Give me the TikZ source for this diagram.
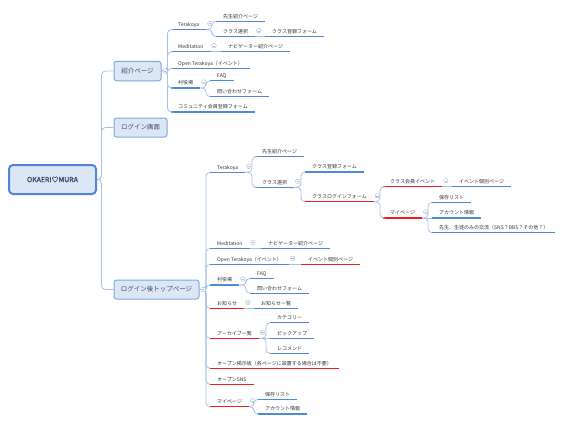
\documentclass[tikz,border=0pt]{standalone}
\usepackage{fontspec}
\setmainfont{Noto Sans CJK JP}[AutoFakeBold=2]
\usetikzlibrary{calc}
\definecolor{ublue}{HTML}{4F8AD9}
\definecolor{ured}{HTML}{EE1C1C}
\definecolor{cline}{HTML}{A6C2E8}
\definecolor{mkline}{HTML}{A9B8CC}
\definecolor{bfill}{HTML}{DCE6F4}
\definecolor{bdraw}{HTML}{7FA8E0}
\definecolor{rdraw}{HTML}{4F86D6}
\definecolor{txt}{HTML}{333333}
\definecolor{btxt}{HTML}{3E4F6E}
\tikzset{
 tp/.style={inner xsep=7pt, inner ysep=2.3pt, text height=4.4pt, text depth=0.7pt,
   font=\fontsize{5}{6}\selectfont, text=txt},
 ul/.style={line width=1.3pt},
 conn/.style={draw=cline, line width=0.8pt, rounded corners=4pt},
 box/.style={draw=bdraw, fill=bfill, line width=1pt, rounded corners=2.5pt,
   font=\fontsize{6.5}{8}\selectfont, text=btxt, inner sep=0pt},
 mk/.style={circle, draw=mkline, fill=white, line width=0.4pt, minimum size=4.6pt, inner sep=0pt,
   path picture={\draw[mkline,line width=0.4pt] ([xshift=-1.3pt]path picture bounding box.center) -- ([xshift=1.3pt]path picture bounding box.center);}},
}
% topic: [colour]{name}{x}{y}{text}
\newcommand\tp[5][ublue]{%
  \node[tp,anchor=south west] (#2) at (#3,#4) {#5};
  \draw[ul,draw=#1] (#2.south west) -- (#2.south east);}
% branch: {parent}{child}{trunk}
\newcommand\br[3]{\draw[conn] (#1.south east) -- (#1.south east -| #3) |- (#2.south west);}
\newcommand\st[2]{\draw[conn] (#1.south east) -- (#2.south west);}
\newcommand\mkr[2]{\node[mk] (#1) at ($(#2.south east)+(3.5,-6)$) {};}
\begin{document}
\begin{tikzpicture}[x=1pt,y=-1pt]
\useasboundingbox (0,0) rectangle (561,423);
% trunks
\coordinate (T0) at (101.5,0);
\coordinate (T1) at (167.5,0);
\coordinate (Ta1) at (212,0);
\coordinate (Ta4) at (206,0);
\coordinate (T3) at (206,0);
\coordinate (Tc1) at (252,0);
\coordinate (Tc12) at (301,0);
\coordinate (Tc122) at (380,0);
\coordinate (Tc1222) at (428,0);
\coordinate (Tc4) at (246,0);
\coordinate (Tc6) at (266,0);
\coordinate (Tc9) at (254,0);

% boxes
\node[box, draw=rdraw, line width=2pt, rounded corners=4pt, minimum width=87pt, minimum height=29pt,
  font=\fontsize{7}{8}\selectfont\bfseries] (root) at (52.5,179.5) {OKAERI♡MURA};
\node[box, minimum width=47pt, minimum height=19.5pt] (b1) at (137.5,71) {紹介ページ};
\node[box, minimum width=53pt, minimum height=19pt] (b2) at (140.5,127.5) {ログイン画面};
\node[box, minimum width=85pt, minimum height=19pt] (b3) at (156.5,289.5) {ログイン後トップページ};

\draw[conn] (root.east) -- (root.east -| T0) |- (b1.west);
\draw[conn] (root.east) -- (root.east -| T0) |- (b2.west);
\draw[conn] (root.east) -- (root.east -| T0) |- (b3.west);

% ---- 紹介ページ
\tp{a1}{171}{29.5}{Terakoya}
\tp{a2}{171}{51.7}{Meditation}
\tp{a3}{171}{68.3}{Open Terakoya（イベント）}
\tp{a4}{171}{88}{村役場}
\tp{a5}{171}{112}{コミュニティ会員登録フォーム}
\foreach \c in {a1,a2,a3,a4,a5} {\draw[conn] (b1.east) -- (b1.east -| T1) |- (\c.south west);}
\node[mk] (mb1) at ($(b1.east)+(3.5,0)$) {};

\tp{a11}{216}{21.3}{先生紹介ページ}
\tp{a12}{216}{36.7}{クラス選択}
\br{a1}{a11}{Ta1}\br{a1}{a12}{Ta1}\mkr{ma1}{a1}
\tp{a121}{265}{36.7}{クラス登録フォーム}
\st{a12}{a121}\mkr{ma12}{a12}
\tp{a21}{221}{51.7}{ナビゲーター紹介ページ}
\st{a2}{a21}\mkr{ma2}{a2}
\tp{a41}{210}{80.7}{FAQ}
\tp{a42}{210}{96.7}{問い合わせフォーム}
\br{a4}{a41}{Ta4}\br{a4}{a42}{Ta4}\mkr{ma4}{a4}

% ---- ログイン後トップページ
\tp{c1}{210}{172.3}{Terakoya}
\tp{c2}{210}{248.3}{Meditation}
\tp{c3}{210}{264.3}{Open Terakoya（イベント）}
\tp{c4}{210}{285}{村役場}
\tp[ured]{c5}{210}{308.3}{お知らせ}
\tp[ured]{c6}{210}{338.3}{アーカイブ一覧}
\tp[ured]{c7}{210}{368.3}{オープン掲示板（各ページに設置する場合は不要）}
\tp[ured]{c8}{210}{384.3}{オープンSNS}
\tp[ured]{c9}{210}{406.7}{マイページ}
\foreach \c in {c1,c2,c3,c4,c5,c6,c7,c8,c9} {\draw[conn] (b3.east) -- (b3.east -| T3) |- (\c.south west);}
\node[mk] (mb3) at ($(b3.east)+(3.5,0)$) {};

\tp{c11}{255}{156.7}{先生紹介ページ}
\tp{c12}{255}{187.3}{クラス選択}
\br{c1}{c11}{Tc1}\br{c1}{c12}{Tc1}\mkr{mc1}{c1}
\tp{c121}{305}{172}{クラス登録フォーム}
\tp[ured]{c122}{305}{201.7}{クラスログインフォーム}
\br{c12}{c121}{Tc12}\br{c12}{c122}{Tc12}\mkr{mc12}{c12}
\tp[ured]{c1221}{383}{186.7}{クラス会員イベント}
\tp[ured]{c1222}{383}{218}{マイページ}
\br{c122}{c1221}{Tc122}\br{c122}{c1222}{Tc122}\mkr{mc122}{c122}
\tp{c12211}{452}{186.7}{イベント個別ページ}
\st{c1221}{c12211}\mkr{mc1221}{c1221}
\tp{c12221}{432}{202.3}{保存リスト}
\tp{c12222}{432}{218}{アカウント情報}
\tp{c12223}{432}{232.7}{先生、生徒のみの交流（SNS？BBS？その他？）}
\br{c1222}{c12221}{Tc1222}\st{c1222}{c12222}\br{c1222}{c12223}{Tc1222}\mkr{mc1222}{c1222}

\tp{c21}{261}{248.3}{ナビゲーター紹介ページ}
\st{c2}{c21}\mkr{mc2}{c2}
\tp[ured]{c31}{301}{264.3}{イベント個別ページ}
\st{c3}{c31}\mkr{mc3}{c3}
\tp{c41}{250}{278.3}{FAQ}
\tp{c42}{250}{293.3}{問い合わせフォーム}
\br{c4}{c41}{Tc4}\br{c4}{c42}{Tc4}\mkr{mc4}{c4}
\tp{c51}{254}{308.3}{お知らせ一覧}
\st{c5}{c51}\mkr{mc5}{c5}
\tp{c61}{270}{322.7}{カテゴリー}
\tp{c62}{270}{338.3}{ピックアップ}
\tp{c63}{270}{353.3}{レコメンド}
\br{c6}{c61}{Tc6}\st{c6}{c62}\br{c6}{c63}{Tc6}\mkr{mc6}{c6}
\tp{c91}{258}{399.3}{保存リスト}
\tp{c92}{258}{414}{アカウント情報}
\br{c9}{c91}{Tc9}\br{c9}{c92}{Tc9}\mkr{mc9}{c9}
\end{tikzpicture}
\end{document}
